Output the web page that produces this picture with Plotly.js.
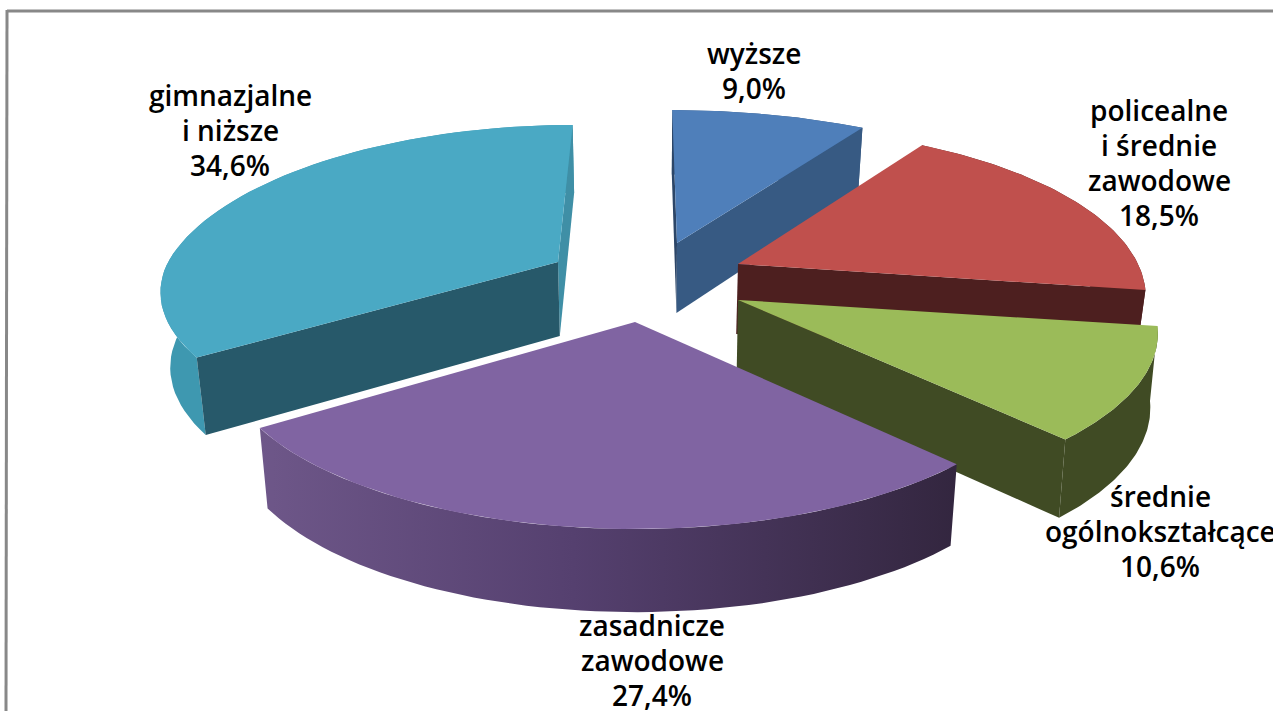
<!DOCTYPE html>
<html><head><meta charset="utf-8">
<script src="https://cdn.plot.ly/plotly-3.0.1.min.js"></script>
<style>html,body{margin:0;padding:0;background:#fff;overflow:hidden}#c{width:1273px;height:711px}</style>
</head><body><div id="c"></div>
<script>
// Data
const categories = ["wyższe","policealne i średnie zawodowe","średnie ogólnokształcące","zasadnicze zawodowe","gimnazjalne i niższe"];
const values = [9.0,18.5,10.6,27.4,34.6];
const labelLines = [["wyższe"],["policealne","i średnie","zawodowe"],["średnie","ogólnokształcące"],["zasadnicze","zawodowe"],["gimnazjalne","i niższe"]];

// Styles (null = that face is not visible)
const topColors = ["#4f7fba","#c0504d","#9bbb59","#8064a2","#4aa9c4"];
const outerColors = ["#375a83","#4d1f1f","#404b24",null,"#3e98b0"];
const startWall = ["#2c4668",null,null,null,"#27596a"];
const endWall = ["#375a83","#4d1f1f","#404b24",null,"#3f8fa6"];
// Exploded apex of each slice in pixels, wall depth, radii
const apexX = [677,738,738,635,558];
const apexY = [243,264,300,322,262];
const depth = [70,70,74,77,74];
const radiusX = [412,400,412,405,390];
const backScale = [0.97,1,1,1,1];
const frontScale = [1,1,1,1.02,0.92];
const converge = [1,0,1,1,1];
const bottomScale = [0.98,0.98,0.985,0.98,0.98];
const labelX = [754,1159,1160,652,230];
const labelY = [53,110,496,625,95];
const lineGap = 35, FONT = "Open Sans", FS = 28, WEIGHT = 600;

// Projection of the tilted disc
const CX = 648, RY = 163.6, PERSP = 0.194, DEPTH_K = 0.08;
function pt(i, th, r, low){
  const u = r*Math.sin(th), v = r*Math.cos(th), p = 1/(1+PERSP*v);
  const pa = (v>0 && converge[i]) ? p : 1;
  let x = CX + (apexX[i]-CX)*pa + radiusX[i]*u*p;
  let y = apexY[i] - RY*v*p*(v>0 ? backScale[i] : frontScale[i]);
  if(low){ x = CX + (x-CX)*bottomScale[i]; y += depth[i]*(1-DEPTH_K*v); }
  return [x,y];
}
const total = values.reduce((a,b)=>a+b,0);
const traces = [];
function poly(pts, color, gradient){
  const t = {type:"scatter",mode:"lines",x:pts.map(q=>q[0]),y:pts.map(q=>q[1]),fill:"toself",
    line:{width:0,color:color||"#000"},hoverinfo:"skip",showlegend:false};
  if(gradient) t.fillgradient = gradient; else t.fillcolor = color;
  traces.push(t);
}
const arcs = []; let acc = 0;
values.forEach(v=>{ arcs.push([acc/total*2*Math.PI,(acc+v)/total*2*Math.PI]); acc += v; });
function rim(i, low){
  const [a,b] = arcs[i], n = 60, out = [];
  for(let k=0;k<=n;k++) out.push(pt(i,a+(b-a)*k/n,1,low));
  return out;
}
function wall(i, th){
  return [pt(i,th,0,false),pt(i,th,1,false),pt(i,th,1,true),pt(i,th,0,true)];
}
[0,1,4,2,3].forEach(i=>{
  const top = rim(i,false), low = rim(i,true).reverse();
  if(outerColors[i]) poly(top.concat(low),outerColors[i]);
  else poly(top.concat(low),"#6e5789",{type:"horizontal",colorscale:[[0,"#6e5789"],[0.45,"#55406f"],[1,"#33263f"]]});
  if(endWall[i]) poly(wall(i,arcs[i][1]),endWall[i]);
  if(startWall[i]) poly(wall(i,arcs[i][0]),startWall[i]);
  poly([pt(i,0,0,false)].concat(top),topColors[i]);
});

const annotations = [];
categories.forEach((c,i)=>{
  const lines = labelLines[i].concat([values[i].toFixed(1).replace(".",",")+"%"]);
  lines.forEach((t,k)=>annotations.push({xref:"x",yref:"y",x:labelX[i],y:labelY[i]+k*lineGap,text:t,showarrow:false,
    xanchor:"center",yanchor:"middle",font:{family:FONT,size:FS,weight:WEIGHT,color:"#000"}}));
});

Plotly.newPlot("c",traces,{
  width:1273,height:711,margin:{l:0,r:0,t:0,b:0},paper_bgcolor:"#fff",plot_bgcolor:"#fff",showlegend:false,
  xaxis:{range:[0,1273],visible:false,fixedrange:true},
  yaxis:{range:[711,0],visible:false,fixedrange:true},
  annotations:annotations,
  shapes:[
    {type:"line",xref:"x",yref:"y",x0:7,y0:11,x1:1273,y1:11,line:{color:"#888",width:3}},
    {type:"line",xref:"x",yref:"y",x0:7,y0:10,x1:6,y1:711,line:{color:"#888",width:3}}
  ]
},{displayModeBar:false,staticPlot:true});
</script></body></html>
